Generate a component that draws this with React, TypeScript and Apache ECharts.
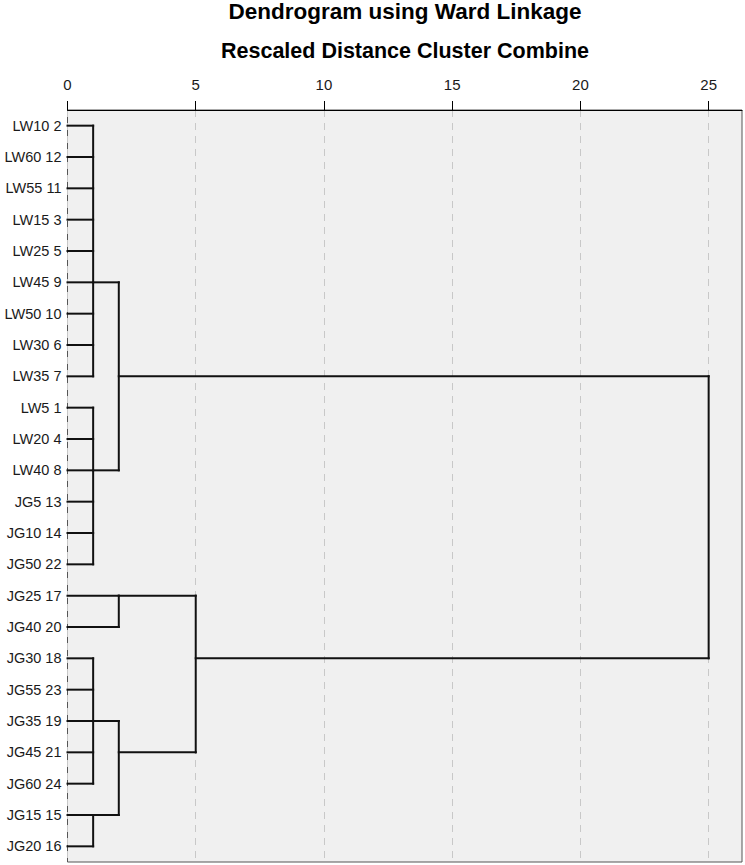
import React, { useEffect, useRef } from "react";
import * as echarts from "echarts";

// Leaves, top to bottom (case label + case number)
const leafLabels = [
  "LW10 2", "LW60 12", "LW55 11", "LW15 3", "LW25 5", "LW45 9", "LW50 10", "LW30 6", "LW35 7",
  "LW5 1", "LW20 4", "LW40 8", "JG5 13", "JG10 14", "JG50 22",
  "JG25 17", "JG40 20",
  "JG30 18", "JG55 23", "JG35 19", "JG45 21", "JG60 24",
  "JG15 15", "JG20 16",
];

// Cluster merges (rescaled distance at which they combine, row where the branch leaves)
const clusterIds = ["A", "B", "AB", "C", "D", "E", "DE", "CDE", "ROOT"];
const clusterHeights = [1, 1, 2, 2, 1, 1, 2, 5, 25];
const clusterRows = [5, 11, 8, 15, 19, 22, 20, 17, 12.5];
const clusterChildren = [
  ["L0", "L1", "L2", "L3", "L4", "L5", "L6", "L7", "L8"],
  ["L9", "L10", "L11", "L12", "L13", "L14"],
  ["A", "B"],
  ["L15", "L16"],
  ["L17", "L18", "L19", "L20", "L21"],
  ["L22", "L23"],
  ["D", "E"],
  ["C", "DE"],
  ["AB", "CDE"],
];

const distanceTicks = [0, 5, 10, 15, 20, 25];
const distanceMax = 26.3;

const titleText = "Dendrogram using Ward Linkage";
const subtitleText = "Rescaled Distance Cluster Combine";

function buildSegments(): number[][] {
  const segs: number[][] = [];
  const info = (id: string) => {
    if (id.startsWith("L")) return { h: 0, row: Number(id.slice(1)) };
    const j = clusterIds.indexOf(id);
    return { h: clusterHeights[j], row: clusterRows[j] };
  };
  clusterIds.forEach((id, i) => {
    const h = clusterHeights[i];
    const kids = clusterChildren[i].map(info);
    const rows = kids.map((k) => k.row);
    segs.push([h, Math.min(...rows), h, Math.max(...rows)]);
    kids.forEach((k) => segs.push([k.h, k.row, h, k.row]));
  });
  return segs;
}

const FONT = '"Liberation Sans", Arial, sans-serif';

export default function App() {
  const ref = useRef<HTMLDivElement>(null);
  useEffect(() => {
    if (!ref.current) return;
    const chart = echarts.init(ref.current, undefined, { renderer: "svg" });
    const segments = buildSegments();
    chart.setOption({
      animation: false,
      backgroundColor: "#ffffff",
      textStyle: { fontFamily: FONT },
      grid: {
        left: 67.5,
        right: 3,
        top: 110,
        bottom: 3,
        show: true,
        backgroundColor: "#f0f0f0",
        borderColor: "#555555",
        borderWidth: 1,
      },
      graphic: [
        {
          type: "text",
          x: 405,
          y: 0,
          style: {
            text: titleText,
            fontSize: 22.5,
            fontWeight: "bold",
            fontFamily: FONT,
            fill: "#000",
            align: "center",
            verticalAlign: "top",
          },
        },
        {
          type: "text",
          x: 405,
          y: 51,
          style: {
            text: subtitleText,
            fontSize: 21.5,
            fontWeight: "bold",
            fontFamily: FONT,
            fill: "#000",
            align: "center",
            verticalAlign: "middle",
          },
        },
      ],
      xAxis: {
        type: "value",
        position: "top",
        min: 0,
        max: distanceMax,
        interval: 5,
        axisLine: { show: true, lineStyle: { color: "#000", width: 1 } },
        axisTick: {
          show: true,
          length: 9,
          customValues: distanceTicks,
          lineStyle: { color: "#000", width: 1 },
        },
        axisLabel: {
          customValues: distanceTicks,
          fontSize: 15,
          color: "#1a1a1a",
          margin: 18,
          fontFamily: FONT,
        },
        splitLine: {
          show: true,
          lineStyle: { color: "#c8c8c8", width: 1, type: [7, 6] },
        },
      },
      yAxis: {
        type: "category",
        data: leafLabels,
        inverse: true,
        axisLine: { show: false },
        axisTick: { show: false },
        splitLine: { show: false },
        axisLabel: { fontSize: 14.5, color: "#1a1a1a", margin: 6, fontFamily: FONT },
      },
      series: [
        {
          type: "custom",
          data: segments,
          encode: { x: [0, 2], y: [1, 3] },
          renderItem: (params: any, api: any) => {
            const p1 = api.coord([api.value(0), api.value(1)]);
            const p2 = api.coord([api.value(2), api.value(3)]);
            return {
              type: "line",
              shape: { x1: p1[0], y1: p1[1], x2: p2[0], y2: p2[1] },
              style: { stroke: "#111", lineWidth: 2, lineCap: "square" },
            };
          },
        },
      ],
    });
    return () => chart.dispose();
  }, []);
  return (
    <div
      ref={ref}
      style={{ position: "absolute", left: 0, top: 0, width: 745, height: 865 }}
    />
  );
}
